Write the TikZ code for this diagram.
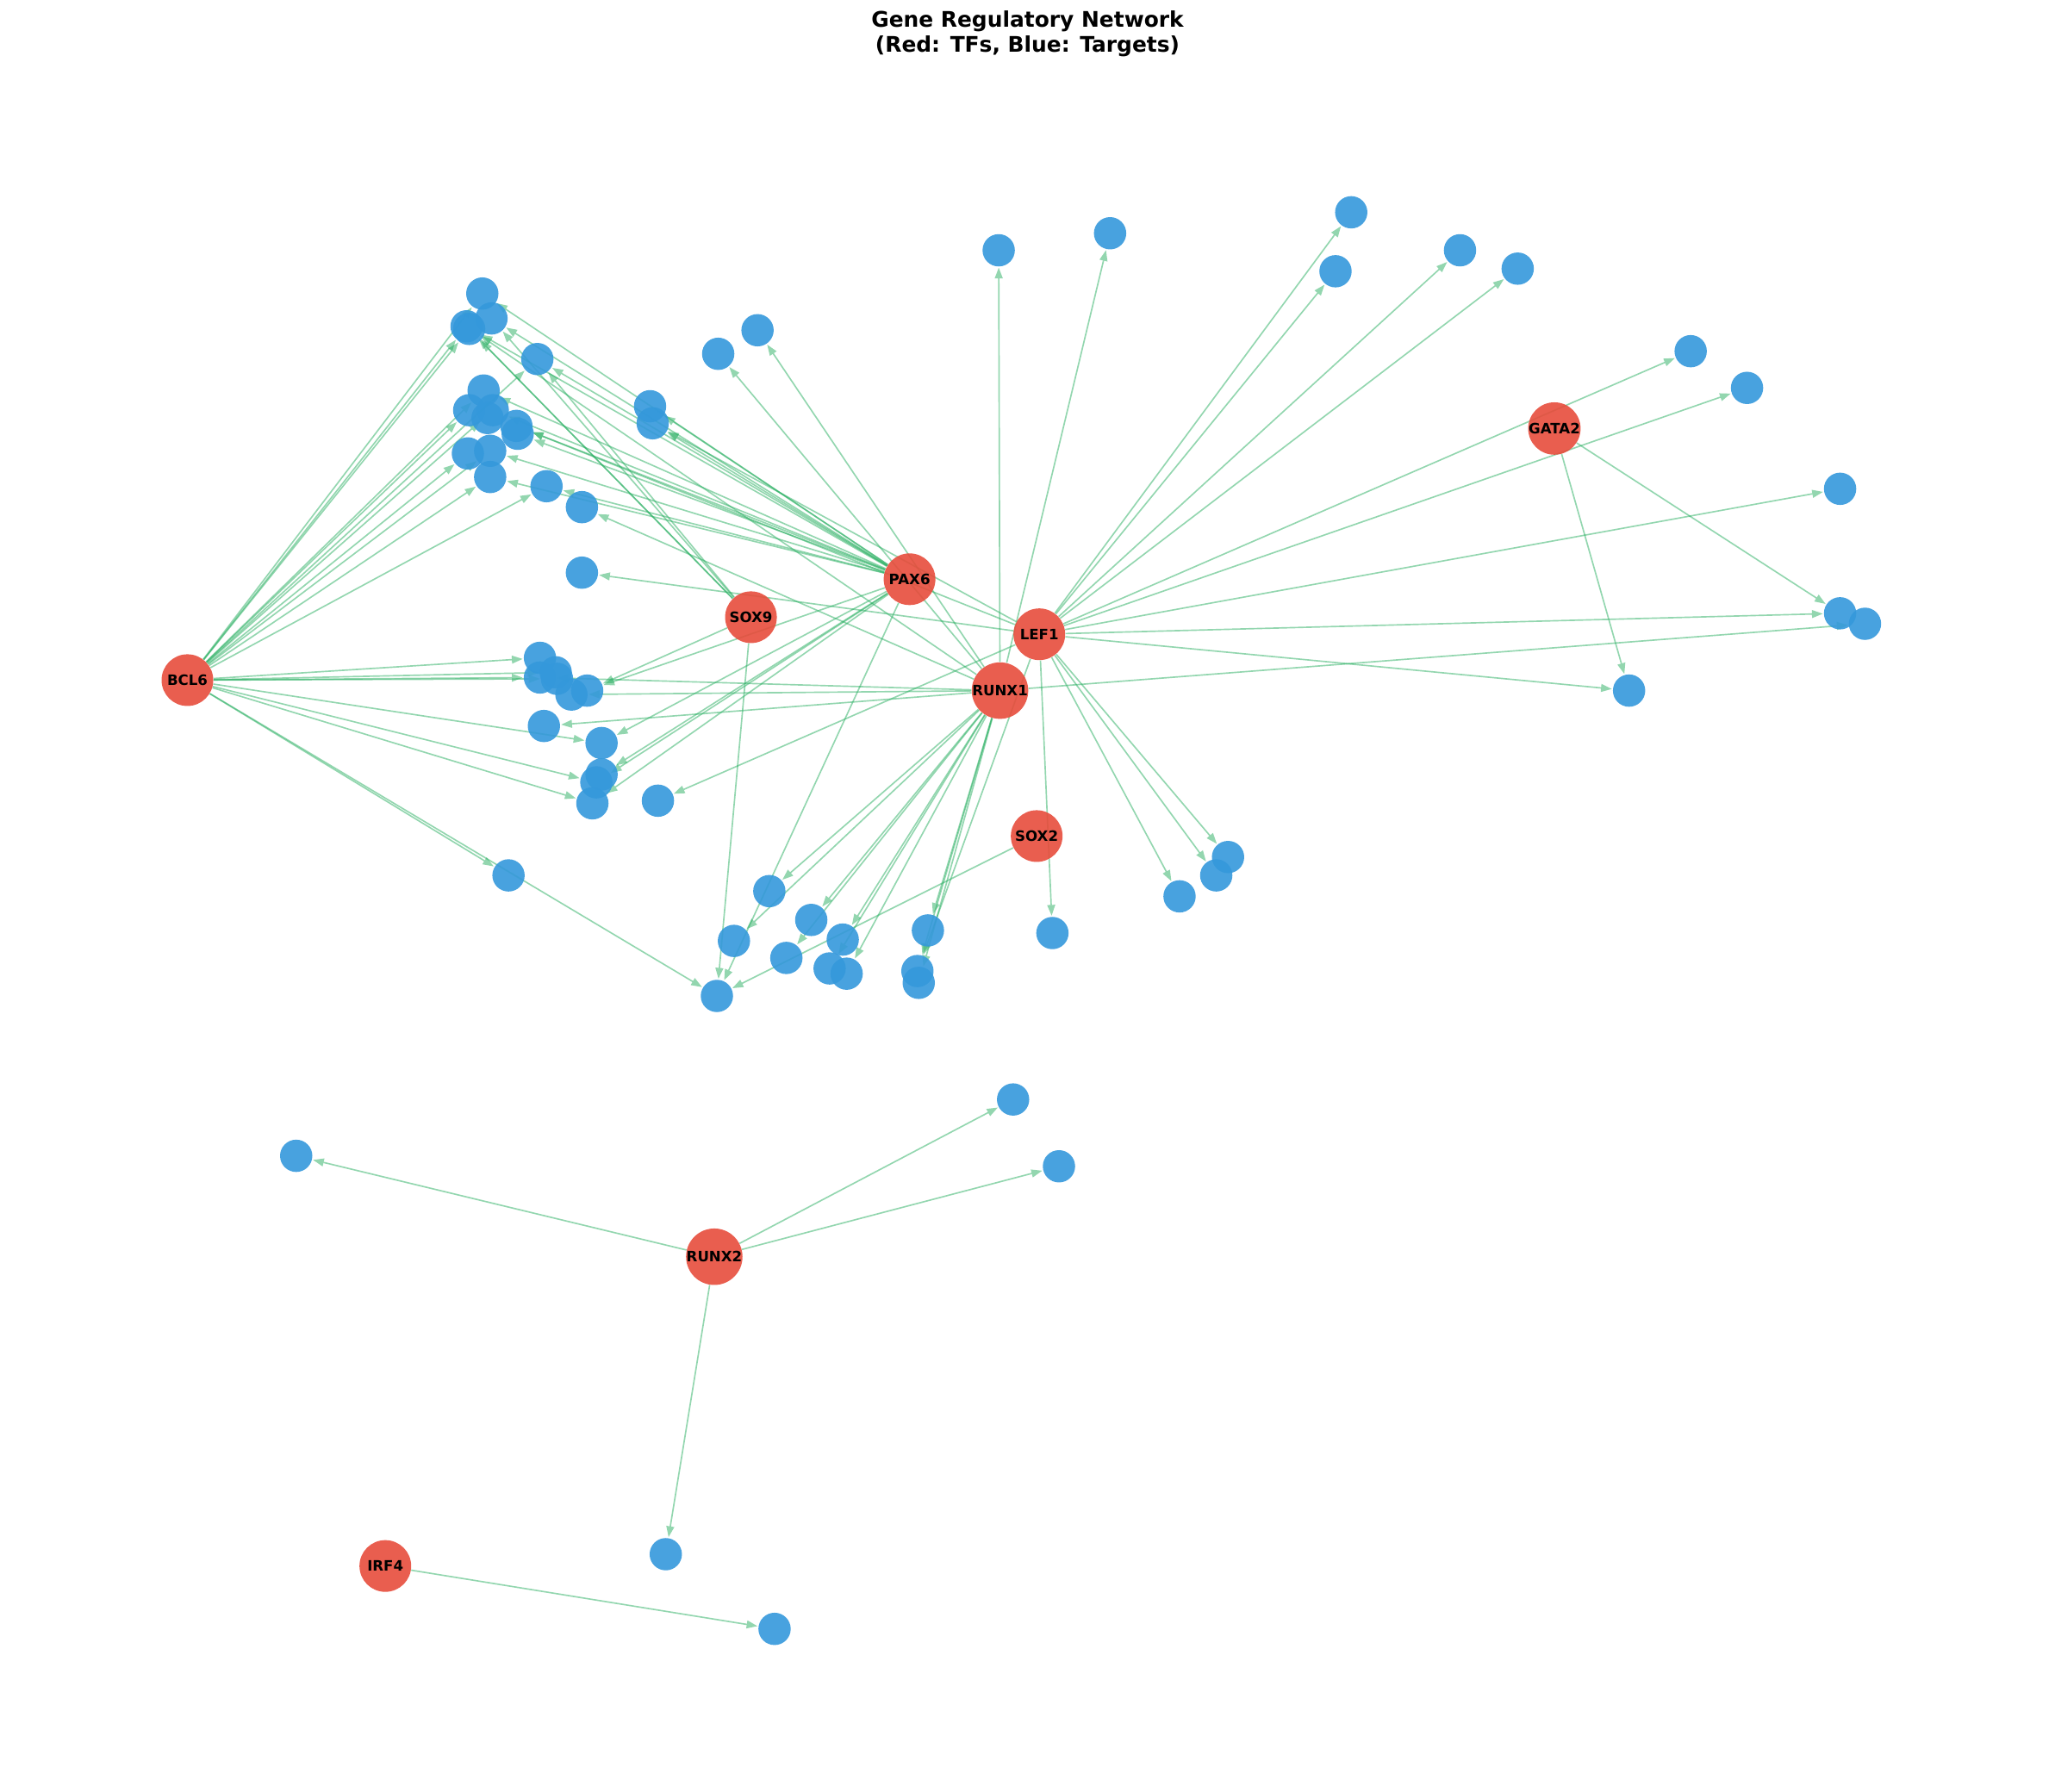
\documentclass[tikz,border=0pt]{standalone}
\usepackage{fontspec}
\setmainfont{DejaVu Sans}
\usepackage{tikz}
\usetikzlibrary{arrows.meta,backgrounds}

\definecolor{tfred}{HTML}{E74C3C}
\definecolor{tgblue}{HTML}{3498DB}
\definecolor{linkgreen}{HTML}{27AE60}

\tikzset{
  tf/.style={circle,fill=tfred,fill opacity=0.9,text opacity=1,minimum size=1.016cm,inner sep=0pt,
    font=\fontsize{8}{9}\selectfont\bfseries},
  tg/.style={circle,fill=tgblue,fill opacity=0.9,minimum size=0.635cm,inner sep=0pt},
  link/.style={->,color=linkgreen,opacity=0.5,line width=0.8pt}
}

\begin{document}
\begin{tikzpicture}[x=0.02576cm,y=-0.02576cm,>={Triangle[length=6pt,width=4.6pt,line width=0pt,fill=linkgreen]},shorten >=0.5pt]
  \useasboundingbox (0,0) rectangle (1568,1367);

  \node (title) at (784,26) [align=center,font=\fontsize{12}{14}\selectfont\bfseries]
        {Gene Regulatory Network\\(Red: TFs, Blue: Targets)};

  % transcription factors
  \node[tf] (bcl6)  at (143,519)  {BCL6};
  \node[tf] (sox9)  at (573,471)  {SOX9};
  \node[tf] (pax6)  at (694,442)  {PAX6};
  \node[tf] (lef1)  at (793,484)  {LEF1};
  \node[tf] (runx1) at (763,527)  {RUNX1};
  \node[tf] (gata2) at (1186,327) {GATA2};
  \node[tf] (sox2)  at (791,638)  {SOX2};
  \node[tf] (runx2) at (545,959)  {RUNX2};
  \node[tf] (irf4)  at (294,1195) {IRF4};

  % targets
  \node[tg] (g1)  at (368,224) {};
  \node[tg] (g2)  at (375,243) {};
  \node[tg] (g3)  at (356,249) {};
  \node[tg] (g4)  at (358,251) {};
  \node[tg] (g5)  at (410,274) {};
  \node[tg] (g6)  at (548,270) {};
  \node[tg] (g7)  at (578,252) {};
  \node[tg] (g8)  at (496,310) {};
  \node[tg] (g9)  at (498,323) {};
  \node[tg] (g10) at (369,298) {};
  \node[tg] (g11) at (358,313) {};
  \node[tg] (g12) at (376,313) {};
  \node[tg] (g13) at (372,319) {};
  \node[tg] (g14) at (394,325) {};
  \node[tg] (g15) at (395,331) {};
  \node[tg] (g16) at (357,346) {};
  \node[tg] (g17) at (374,344) {};
  \node[tg] (g18) at (374,364) {};
  \node[tg] (g19) at (417,371) {};
  \node[tg] (g20) at (444,387) {};
  \node[tg] (g21) at (444,437) {};
  \node[tg] (g22) at (412,502) {};
  \node[tg] (g23) at (412,517) {};
  \node[tg] (g24) at (424,513) {};
  \node[tg] (g25) at (425,518) {};
  \node[tg] (g26) at (436,530) {};
  \node[tg] (g27) at (448,527) {};
  \node[tg] (g28) at (415,554) {};
  \node[tg] (g29) at (459,567) {};
  \node[tg] (g30) at (459,591) {};
  \node[tg] (g31) at (455,597) {};
  \node[tg] (g32) at (452,613) {};
  \node[tg] (g33) at (502,611) {};
  \node[tg] (g34) at (388,668) {};
  \node[tg] (g35) at (587,680) {};
  \node[tg] (g36) at (619,702) {};
  \node[tg] (g37) at (560,718) {};
  \node[tg] (g38) at (643,717) {};
  \node[tg] (g39) at (600,731) {};
  \node[tg] (g40) at (633,739) {};
  \node[tg] (g41) at (646,743) {};
  \node[tg] (g42) at (708,710) {};
  \node[tg] (g43) at (700,741) {};
  \node[tg] (g44) at (701,750) {};
  \node[tg] (g45) at (547,760) {};
  \node[tg] (g46) at (803,712) {};
  \node[tg] (g47) at (900,684) {};
  \node[tg] (g48) at (928,668) {};
  \node[tg] (g49) at (937,654) {};
  \node[tg] (g50) at (762,191) {};
  \node[tg] (g51) at (847,178) {};
  \node[tg] (g52) at (1031,162) {};
  \node[tg] (g53) at (1019,207) {};
  \node[tg] (g54) at (1114,191) {};
  \node[tg] (g55) at (1158,205) {};
  \node[tg] (g56) at (1290,268) {};
  \node[tg] (g57) at (1333,296) {};
  \node[tg] (g58) at (1404,373) {};
  \node[tg] (g59) at (1404,468) {};
  \node[tg] (g60) at (1423,476) {};
  \node[tg] (g61) at (1243,527) {};
  \node[tg] (g62) at (773,839) {};
  \node[tg] (g63) at (808,890) {};
  \node[tg] (g64) at (226,882) {};
  \node[tg] (g65) at (508,1186) {};
  \node[tg] (g66) at (591,1243) {};

  \begin{pgfonlayer}{background}
  \path[link]
        (bcl6) edge (g1)
        (bcl6) edge (g3)
        (bcl6) edge (g4)
        (bcl6) edge (g5)
        (bcl6) edge (g10)
        (bcl6) edge (g11)
        (bcl6) edge (g12)
        (bcl6) edge (g16)
        (bcl6) edge (g17)
        (bcl6) edge (g18)
        (bcl6) edge (g19)
        (bcl6) edge (g22)
        (bcl6) edge (g23)
        (bcl6) edge (g24)
        (bcl6) edge (g25)
        (bcl6) edge (g29)
        (bcl6) edge (g31)
        (bcl6) edge (g32)
        (bcl6) edge (g34)
        (bcl6) edge (g45)

        (sox9) edge (g2)
        (sox9) edge (g3)
        (sox9) edge (g4)
        (sox9) edge (g5)
        (sox9) edge (g27)
        (sox9) edge (g45)

        (pax6) edge (g1)
        (pax6) edge (g2)
        (pax6) edge (g3)
        (pax6) edge (g5)
        (pax6) edge (g8)
        (pax6) edge (g9)
        (pax6) edge (g10)
        (pax6) edge (g12)
        (pax6) edge (g14)
        (pax6) edge (g15)
        (pax6) edge (g17)
        (pax6) edge (g18)
        (pax6) edge (g19)
        (pax6) edge (g27)
        (pax6) edge (g29)
        (pax6) edge (g30)
        (pax6) edge (g31)
        (pax6) edge (g32)
        (pax6) edge (g45)

        (lef1) edge (g9)
        (lef1) edge (g14)
        (lef1) edge (g21)
        (lef1) edge (g33)
        (lef1) edge (g43)
        (lef1) edge (g46)
        (lef1) edge (g47)
        (lef1) edge (g48)
        (lef1) edge (g49)
        (lef1) edge (g52)
        (lef1) edge (g53)
        (lef1) edge (g54)
        (lef1) edge (g55)
        (lef1) edge (g56)
        (lef1) edge (g57)
        (lef1) edge (g58)
        (lef1) edge (g59)
        (lef1) edge (g61)

        (runx1) edge (g3)
        (runx1) edge (g6)
        (runx1) edge (g7)
        (runx1) edge (g20)
        (runx1) edge (g23)
        (runx1) edge (g26)
        (runx1) edge (g28)
        (runx1) edge (g35)
        (runx1) edge (g36)
        (runx1) edge (g37)
        (runx1) edge (g38)
        (runx1) edge (g39)
        (runx1) edge (g40)
        (runx1) edge (g41)
        (runx1) edge (g42)
        (runx1) edge (g43)
        (runx1) edge (g44)
        (runx1) edge (g50)
        (runx1) edge (g51)
        (runx1) edge (g60)

        (gata2) edge (g59)
        (gata2) edge (g61)
        (sox2) edge (g45)

        (runx2) edge (g62)
        (runx2) edge (g63)
        (runx2) edge (g64)
        (runx2) edge (g65)
        (irf4) edge (g66)
        ;
  \end{pgfonlayer}
\end{tikzpicture}
\end{document}
